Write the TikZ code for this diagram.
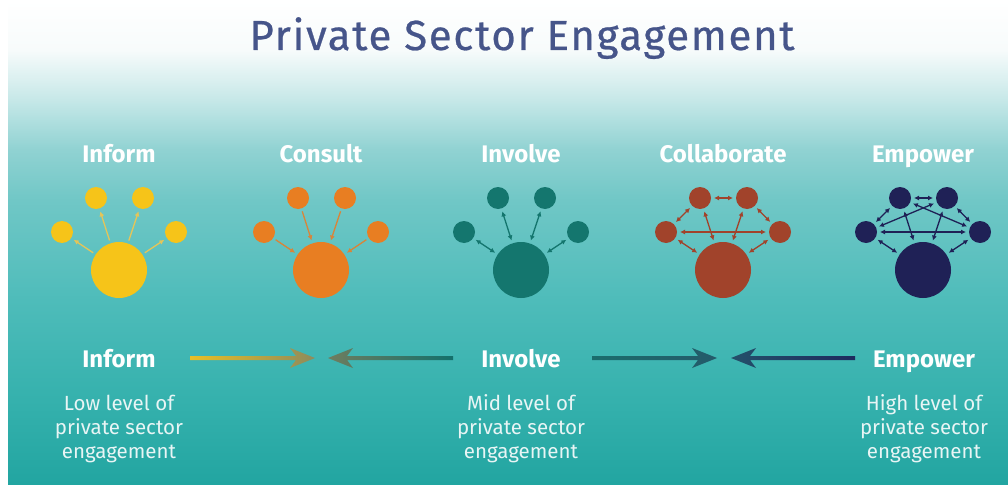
\documentclass[tikz,border=0pt]{standalone}
\usepackage{fontspec}
\setmainfont{Fira Sans}
\newfontfamily\titlefont{Fira Sans}[LetterSpace=4, FakeBold=0.6]
\usetikzlibrary{arrows.meta,calc}
\definecolor{titleC}{HTML}{46558A}
\definecolor{yel}{HTML}{F6C419}
\definecolor{yelL}{HTML}{E3C55A}
\definecolor{org}{HTML}{E87E22}
\definecolor{orgL}{HTML}{D8853A}
\definecolor{tea}{HTML}{14766E}
\definecolor{rus}{HTML}{A1432B}
\definecolor{nav}{HTML}{1F2156}
\definecolor{descC}{HTML}{E8F5F5}
\definecolor{arA}{HTML}{E8BF25}
\definecolor{arB}{HTML}{8E8B5C}
\definecolor{arC}{HTML}{6F7D5F}
\definecolor{arD}{HTML}{13706B}
\definecolor{arE}{HTML}{1A6D6C}
\definecolor{arF}{HTML}{245A6A}
\definecolor{arG}{HTML}{24506A}
\definecolor{arH}{HTML}{1D2A5E}
\definecolor{bgA}{HTML}{F7FBFB}
\definecolor{bgB}{HTML}{C6E8E8}
\definecolor{bgC}{HTML}{90D2D2}
\definecolor{bgD}{HTML}{70C7C6}
\definecolor{bgE}{HTML}{4EBCBA}
\definecolor{bgF}{HTML}{35B1AD}
\definecolor{bgG}{HTML}{22A5A1}
\pgfdeclareverticalshading{bgshade}{100bp}{color(0bp)=(bgG); color(25bp)=(bgG); color(33.7bp)=(bgF); color(44bp)=(bgE); color(54.3bp)=(bgD); color(59.5bp)=(bgC); color(64.7bp)=(bgB); color(69.8bp)=(bgA); color(75bp)=(white); color(100bp)=(white)}
\tikzset{
  smallc/.style={circle, fill=#1, minimum size=22pt, inner sep=0pt, outer sep=3pt},
  bigc/.style={circle, fill=#1, minimum size=56pt, inner sep=0pt, outer sep=3pt},
  one/.style={draw=#1, line width=1.3pt, -{Latex[length=5pt,width=5pt]}},
  two/.style={draw=#1, line width=1.3pt, {Latex[length=5pt,width=5pt]}-{Latex[length=5pt,width=5pt]}},
  head/.style={text=white, font=\bfseries\fontsize{24}{28}\selectfont, anchor=base},
  desc/.style={text=descC, font=\fontsize{20.5}{24}\selectfont, align=center, anchor=base},
}
\newcommand\iconnodes[3]{%
  \node[bigc=#3] (#1b) at (#2,270) {};
  \node[smallc=#3] (#1l) at (#2-57,232) {};
  \node[smallc=#3] (#1tl) at (#2-23,198) {};
  \node[smallc=#3] (#1tr) at (#2+24,198) {};
  \node[smallc=#3] (#1r) at (#2+57,232) {};
}
\newcommand\bigarrow[5]{%
  \shade[left color=#4, right color=#5] ($(#1)+(0,-2)$) -- ($(#2)+(-19*#3,-2)$) -- ($(#2)+(-25*#3,-10)$) -- (#2) -- ($(#2)+(-25*#3,10)$) -- ($(#2)+(-19*#3,2)$) -- ($(#1)+(0,2)$) -- cycle;
}
\begin{document}
\begin{tikzpicture}[x=1pt,y=-1pt]
\useasboundingbox (0,0) rectangle (1008,484);
\fill[white] (0,0) rectangle (1008,484);
\shade[shading=bgshade] (8,0) rectangle (1008,484);
% title
\node[text=titleC, font=\titlefont\fontsize{42}{48}\selectfont, anchor=base] (title) at (522,50) {Private Sector Engagement};
% headers
\node[head] (h1) at (119,162) {Inform};
\node[head] (h2) at (321,162) {Consult};
\node[head] (h3) at (521,162) {Involve};
\node[head] (h4) at (723,162) {Collaborate};
\node[head] (h5) at (923,162) {Empower};
% icons
\iconnodes{a}{119}{yel}
\iconnodes{c}{321}{org}
\iconnodes{v}{521}{tea}
\iconnodes{k}{723}{rus}
\iconnodes{e}{923}{nav}
% inform: outward
\foreach \s in {l,tl,tr,r} \draw[one=yelL] (ab) -- (a\s);
% consult: inward
\foreach \s in {l,tl,tr,r} \draw[one=orgL] (c\s) -- (cb);
% involve: both ways
\foreach \s in {l,tl,tr,r} \draw[two=tea] (vb) -- (v\s);
% collaborate
\foreach \s in {l,tl,tr,r} \draw[two=rus] (kb) -- (k\s);
\draw[two=rus] (ktl) -- (ktr);
\draw[two=rus] (ktl) -- (kl);
\draw[two=rus] (ktr) -- (kr);
\draw[two=rus] (kl) -- (kr);
% empower: all pairs
\foreach \s in {l,tl,tr,r} \draw[two=nav] (eb) -- (e\s);
\draw[two=nav] (etl) -- (etr);
\draw[two=nav] (etl) -- (el);
\draw[two=nav] (etr) -- (er);
\draw[two=nav] (el) -- (er);
\draw[two=nav] (etl) -- (er);
\draw[two=nav] (etr) -- (el);
% bottom labels
\node[head] (b1) at (119,367) {Inform};
\node[head] (b3) at (521,367) {Involve};
\node[head] (b5) at (924,367) {Empower};
\node[desc] (d1) at (119,458) {Low level of\\private sector\\engagement};
\node[desc] (d3) at (521,458) {Mid level of\\private sector\\engagement};
\node[desc] (d5) at (924,458) {High level of\\private sector\\engagement};
% bottom arrows
\coordinate (p1s) at (190,358); \coordinate (p1t) at (315,358);
\coordinate (p2s) at (453,358); \coordinate (p2t) at (328,358);
\coordinate (p3s) at (592,358); \coordinate (p3t) at (717,358);
\coordinate (p4s) at (855,358); \coordinate (p4t) at (731,358);
\bigarrow{p1s}{p1t}{1}{arA}{arB}
\bigarrow{p2s}{p2t}{-1}{arC}{arD}
\bigarrow{p3s}{p3t}{1}{arE}{arF}
\bigarrow{p4s}{p4t}{-1}{arG}{arH}
\end{tikzpicture}
\end{document}
